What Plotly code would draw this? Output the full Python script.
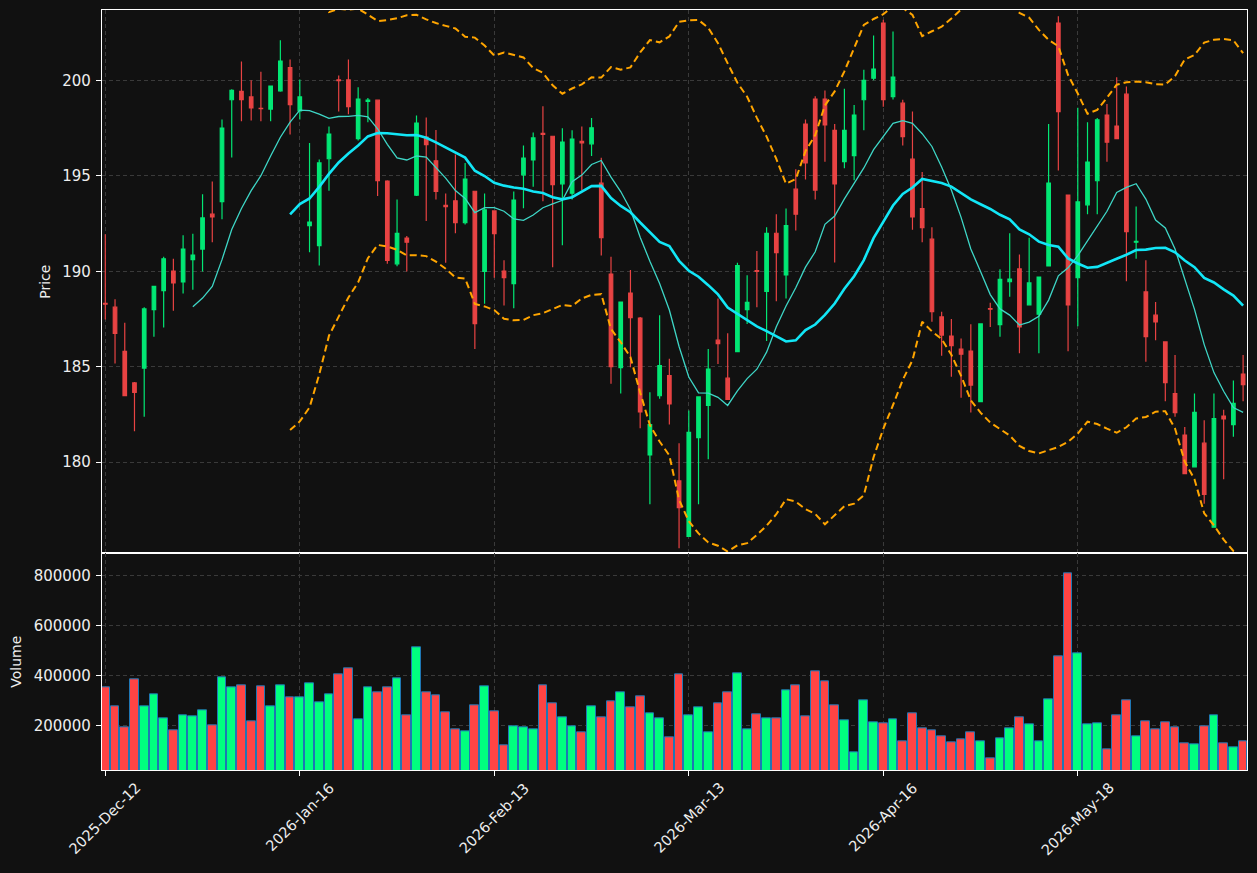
import plotly.graph_objects as go
from plotly.subplots import make_subplots
import pandas as pd

opens = [188.32, 188.12, 185.80, 184.15, 184.93, 187.99, 188.99, 190.01, 189.44, 190.61,
         191.16, 192.99, 193.65, 198.98, 199.42, 199.13, 198.53, 198.49, 199.45, 200.67,
         198.40, 192.39, 191.34, 195.89, 200.02, 200.02, 196.94, 198.89, 198.96, 194.72,
         190.39, 191.74, 193.98, 197.03, 195.78, 193.45, 193.69, 192.54, 194.19, 189.99,
         193.16, 190.01, 189.35, 195.05, 195.83, 197.22, 197.07, 194.58, 194.09, 196.80,
         196.67, 194.61, 189.85, 184.95, 188.86, 187.55, 180.38, 183.48, 184.53, 179.02,
         176.11, 181.29, 182.97, 186.39, 184.40, 185.79, 187.99, 190.03, 188.94, 191.99,
         189.81, 194.30, 197.71, 199.02, 199.02, 197.38, 195.74, 196.05, 198.98, 200.11,
         203.00, 199.14, 198.80, 195.87, 193.28, 191.68, 187.61, 186.61, 185.93, 185.82,
         183.17, 188.04, 187.21, 189.45, 190.12, 188.24, 187.75, 190.28, 203.00, 193.99,
         189.66, 193.48, 194.74, 198.18, 197.60, 199.27, 191.52, 188.92, 187.70, 186.30,
         183.60, 181.42, 179.76, 181.00, 176.60, 182.42, 181.97, 184.62]
highs = [191.94, 188.53, 187.30, 184.20, 188.12, 189.21, 190.76, 190.66, 191.88, 191.97,
         194.03, 194.70, 197.94, 199.53, 200.98, 200.00, 200.45, 199.72, 202.09, 201.09,
         200.04, 196.71, 195.85, 197.58, 200.25, 201.09, 199.64, 199.07, 198.98, 194.76,
         193.76, 191.85, 198.16, 198.05, 197.40, 194.07, 196.12, 195.67, 194.20, 194.07,
         193.18, 190.57, 194.18, 196.58, 197.27, 198.64, 197.08, 197.49, 197.38, 197.58,
         198.02, 195.94, 190.76, 188.40, 190.06, 187.61, 183.66, 187.70, 185.42, 181.00,
         182.71, 183.43, 185.93, 188.57, 186.75, 190.45, 189.79, 191.06, 192.30, 192.98,
         193.28, 195.34, 197.94, 199.16, 199.47, 197.71, 199.56, 198.71, 200.55, 202.35,
         203.17, 202.55, 198.98, 198.36, 195.20, 192.30, 187.88, 187.50, 186.48, 187.22,
         187.25, 188.35, 190.10, 191.99, 190.88, 191.76, 189.71, 197.71, 203.35, 194.00,
         198.56, 197.80, 198.03, 198.76, 200.16, 199.67, 193.39, 190.57, 188.39, 186.31,
         185.61, 181.84, 183.60, 182.20, 183.60, 182.75, 184.28, 185.61]
lows = [187.48, 185.17, 183.45, 181.62, 182.38, 186.57, 187.06, 187.93, 188.84, 189.03,
        189.99, 191.52, 192.72, 195.96, 197.85, 197.89, 197.85, 197.85, 199.40, 197.16,
        197.94, 190.99, 190.30, 194.21, 198.36, 198.22, 196.85, 197.80, 193.94, 190.39,
        190.26, 189.99, 193.94, 192.63, 193.76, 190.45, 191.99, 192.45, 185.93, 188.30,
        189.66, 188.21, 188.06, 193.30, 194.43, 193.67, 190.21, 191.36, 193.76, 194.25,
        196.03, 190.83, 184.11, 183.60, 184.97, 181.78, 177.80, 183.33, 181.98, 175.50,
        176.10, 177.80, 180.15, 185.15, 183.28, 185.78, 187.24, 188.12, 186.35, 188.43,
        188.57, 192.14, 194.80, 193.76, 195.74, 190.46, 195.40, 194.76, 197.38, 200.00,
        198.62, 199.00, 196.58, 192.17, 191.52, 187.35, 185.57, 184.48, 183.38, 182.60,
        183.16, 187.08, 186.57, 188.66, 185.70, 188.23, 185.70, 190.27, 195.27, 185.81,
        187.12, 192.98, 192.98, 195.74, 196.93, 189.48, 190.66, 185.26, 186.39, 183.19,
        182.38, 179.39, 179.75, 177.82, 176.59, 179.11, 181.33, 183.19]
closes = [188.28, 186.75, 183.48, 183.66, 188.03, 189.21, 190.65, 189.39, 191.16, 190.85,
          192.79, 192.85, 197.49, 199.47, 198.98, 198.56, 198.51, 199.69, 201.00, 198.73,
          199.13, 192.58, 195.67, 197.18, 199.98, 198.62, 199.02, 198.96, 194.74, 190.57,
          191.99, 191.52, 197.76, 196.63, 194.18, 193.38, 192.54, 194.83, 187.26, 193.21,
          191.97, 189.66, 193.72, 195.92, 196.98, 197.16, 194.54, 196.76, 196.92, 196.72,
          197.51, 191.76, 185.00, 188.39, 187.57, 182.64, 181.97, 185.06, 183.06, 177.62,
          181.57, 183.42, 184.88, 186.21, 183.29, 190.30, 188.37, 189.99, 191.99, 190.97,
          192.39, 192.99, 195.67, 194.25, 197.67, 194.58, 197.38, 198.18, 200.00, 200.58,
          198.98, 200.16, 197.05, 192.85, 192.28, 187.88, 186.66, 186.10, 185.66, 184.04,
          187.24, 188.01, 189.57, 189.59, 187.08, 189.39, 189.70, 194.61, 198.36, 188.24,
          193.63, 195.72, 197.93, 196.76, 196.94, 192.07, 191.57, 186.57, 187.35, 184.17,
          182.60, 179.40, 182.61, 178.31, 182.29, 182.27, 183.08, 184.06]
volumes = [352000, 276000, 193000, 384000, 276000, 324000, 228000, 180000, 240000, 236000,
           260000, 200000, 392000, 352000, 360000, 216000, 356000, 276000, 360000, 312000,
           312000, 368000, 292000, 324000, 404000, 428000, 224000, 352000, 332000, 352000,
           388000, 240000, 512000, 332000, 320000, 252000, 184000, 176000, 280000, 356000,
           256000, 120000, 197000, 192000, 184000, 360000, 288000, 232000, 196000, 172000,
           276000, 232000, 296000, 332000, 272000, 316000, 248000, 228000, 152000, 404000,
           240000, 272000, 172000, 288000, 332000, 408000, 184000, 244000, 228000, 228000,
           340000, 360000, 236000, 416000, 376000, 280000, 220000, 92000, 300000, 212000,
           208000, 224000, 136000, 248000, 188000, 180000, 156000, 132000, 144000, 172000,
           136000, 67000, 148000, 188000, 232000, 204000, 136000, 304000, 476000, 808000,
           488000, 204000, 208000, 104000, 240000, 300000, 156000, 216000, 184000, 212000,
           192000, 128000, 124000, 196000, 240000, 128000, 112000, 136000]

tick_positions = [0, 20, 40, 60, 80, 100]
tick_labels = ["2025-Dec-12", "2026-Jan-16", "2026-Feb-13", "2026-Mar-13", "2026-Apr-16", "2026-May-18"]
price_ticks = [180, 185, 190, 195, 200]
vol_ticks = [200000, 400000, 600000, 800000]

x = list(range(len(closes)))
close_s = pd.Series(closes)
sma10 = close_s.rolling(10).mean()
sma20 = close_s.rolling(20).mean()
std20 = close_s.rolling(20).std()
bb_up = sma20 + 2 * std20
bb_lo = sma20 - 2 * std20

G_C = "#02e774"
R_C = "#e84343"
G_V = "#00ff7f"
R_V = "#ff4444"
BG = "#111111"
GRID = "#3a3a3a"
TXT = "#eeeeee"
FONT = "DejaVu Sans"

vol_colors = [G_V if c >= o else R_V for o, c in zip(opens, closes)]

fig = make_subplots(rows=2, cols=1, shared_xaxes=True, vertical_spacing=0,
                    row_heights=[0.7149, 0.2851])

fig.add_trace(go.Candlestick(
    x=x, open=opens, high=highs, low=lows, close=closes,
    increasing=dict(line=dict(color=G_C, width=1.2), fillcolor=G_C),
    decreasing=dict(line=dict(color=R_C, width=1.2), fillcolor=R_C),
    whiskerwidth=0, showlegend=False, hoverinfo="skip"), row=1, col=1)

fig.add_trace(go.Scatter(x=x, y=sma10, mode="lines",
                         line=dict(color="#3ed6c6", width=1.3), showlegend=False), row=1, col=1)
fig.add_trace(go.Scatter(x=x, y=sma20, mode="lines",
                         line=dict(color="#12e6f6", width=2.6), showlegend=False), row=1, col=1)
fig.add_trace(go.Scatter(x=x, y=bb_up, mode="lines",
                         line=dict(color="#ffa500", width=2, dash="7px,4px"), showlegend=False), row=1, col=1)
fig.add_trace(go.Scatter(x=x, y=bb_lo, mode="lines",
                         line=dict(color="#ffa500", width=2, dash="7px,4px"), showlegend=False), row=1, col=1)

fig.add_trace(go.Bar(x=x, y=volumes, width=0.9,
                     marker=dict(color=vol_colors, line=dict(color="#1f77b4", width=1)),
                     showlegend=False), row=2, col=1)

common_x = dict(range=[-0.34, 117.4], tickmode="array", tickvals=tick_positions,
                showgrid=True, gridcolor=GRID, griddash="4px,3px", gridwidth=1,
                showline=True, linecolor="white", linewidth=1.2, mirror=True,
                zeroline=False, automargin=False, showticklabels=False)
fig.update_xaxes(**common_x)
fig.update_xaxes(row=1, col=1, ticks="", rangeslider_visible=False)
fig.update_xaxes(row=2, col=1, ticks="outside", ticklen=5, tickcolor="white")

common_y = dict(showgrid=True, gridcolor=GRID, griddash="4px,3px", gridwidth=1,
                showline=True, linecolor="white", linewidth=1.2, mirror=True,
                zeroline=False, ticks="outside", ticklen=5, tickcolor="white",
                automargin=False, ticklabelstandoff=2,
                tickfont=dict(family=FONT, size=15, color=TXT))
fig.update_yaxes(**common_y)
fig.update_yaxes(row=1, col=1, range=[175.23, 203.68], tickmode="array",
                 tickvals=price_ticks,
                 title=dict(text="Price", font=dict(family=FONT, size=14, color=TXT), standoff=8))
fig.update_yaxes(row=2, col=1, range=[21500, 888000], tickmode="array",
                 tickvals=vol_ticks, ticktext=[str(v) for v in vol_ticks],
                 title=dict(text="Volume", font=dict(family=FONT, size=14, color=TXT), standoff=8))

for pos, lab in zip(tick_positions, tick_labels):
    fig.add_annotation(x=pos, xref="x2", y=-0.0105, yref="paper", text=lab,
                       textangle=-45, xanchor="center", yanchor="top", showarrow=False,
                       font=dict(family=FONT, size=14.5, color=TXT), borderpad=0)

fig.update_layout(width=1257, height=873, paper_bgcolor=BG, plot_bgcolor=BG,
                  margin=dict(l=102, r=10, t=10, b=103), boxgap=0.48,
                  bargap=0, font=dict(family=FONT, size=14, color=TXT),
                  showlegend=False, hovermode=False)

fig.write_html("out.html")
